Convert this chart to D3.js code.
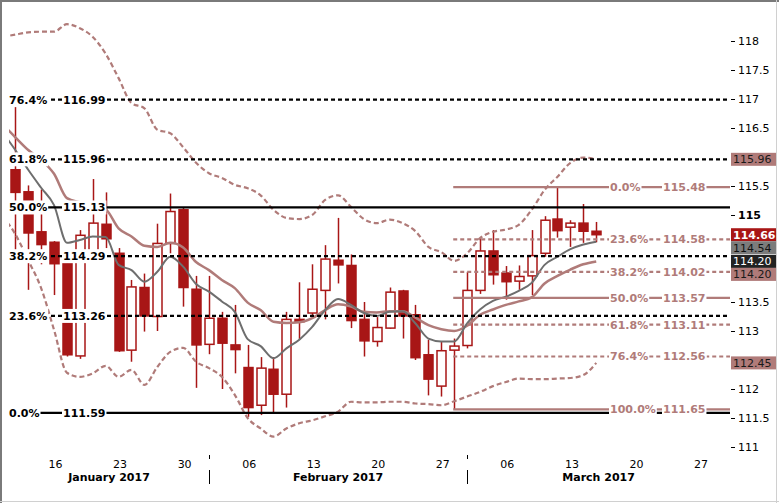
<!DOCTYPE html>
<html><head><meta charset="utf-8">
<script src="https://cdn.jsdelivr.net/npm/d3@7"></script>
<style>
html,body{margin:0;padding:0;background:#fff;}
svg{display:block;font-family:"DejaVu Sans",Verdana,sans-serif;}
</style></head>
<body><svg id="c" width="779" height="503"></svg>
<script>
// ---- data ----
const startDate = "2017-01-10"; // first trading day (indicator lead-in)
const open  = [115.78,115.40,114.71,114.53,114.17,112.57,114.36,114.84,114.34,112.67,113.75,113.25,114.51,115.09,113.72,112.77,113.22,112.76,112.37,111.72,112.34,111.91,113.20,113.31,113.70,114.22,114.13,113.20,112.82,113.05,113.69,113.28,112.59,112.05,112.67,112.75,113.70,114.38,114.00,113.86,113.95,114.34,114.93,114.79,114.86,114.72];
const high  = [116.86,115.51,115.44,114.55,114.25,114.74,115.62,115.39,114.43,113.88,113.99,114.85,115.37,115.12,113.95,113.95,113.33,113.45,112.76,112.55,112.55,113.33,113.84,114.15,114.48,114.95,114.32,113.50,113.24,113.75,113.71,113.45,112.85,112.82,112.87,114.02,114.60,114.74,114.12,114.13,114.74,114.98,115.48,114.91,115.19,114.88];
const low   = [114.30,113.71,114.15,113.62,112.56,112.52,114.30,114.43,112.64,112.47,112.99,113.00,114.34,113.42,112.02,112.60,112.00,112.27,111.52,111.55,111.58,111.68,112.85,113.26,113.20,113.82,113.05,112.56,112.73,113.04,112.87,112.50,111.89,111.87,111.65,112.70,113.64,113.80,113.54,113.71,113.62,114.28,114.61,114.45,114.52,114.53];
const close = [115.39,114.69,114.49,114.16,112.59,114.65,114.86,114.59,112.66,113.76,113.26,114.51,115.06,113.75,112.76,113.22,112.79,112.68,111.68,112.36,111.91,113.20,113.16,113.72,114.24,114.14,113.18,112.83,113.06,113.67,113.26,112.54,112.17,112.66,112.74,113.70,114.38,113.97,113.85,113.94,114.30,114.91,114.73,114.86,114.72,114.66];
// indicators: one value per trading day starting at startDate
const maFast = [116.43,116.12,115.78,115.47,115.17,114.52,114.57,114.63,114.62,114.14,114.05,113.85,114.02,114.28,114.11,113.81,113.68,113.51,113.33,112.86,112.74,112.53,112.70,112.85,113.07,113.36,113.55,113.45,113.31,113.26,113.33,113.34,113.13,112.87,112.82,112.82,113.13,113.37,113.52,113.59,113.69,113.83,114.14,114.28,114.41,114.49,114.54];
const maSlow = [116.57,116.34,116.12,115.95,115.71,115.29,115.22,115.17,115.10,114.77,114.63,114.47,114.45,114.52,114.44,114.19,114.05,113.88,113.74,113.49,113.36,113.16,113.14,113.15,113.22,113.36,113.46,113.42,113.33,113.32,113.34,113.34,113.23,113.10,113.03,113.00,113.09,113.28,113.37,113.45,113.51,113.58,113.82,113.95,114.06,114.15,114.20];
const bandUpper = [118.07,118.11,118.15,118.16,118.16,118.29,118.22,118.07,117.78,117.36,116.93,116.84,116.47,116.41,116.17,115.90,115.72,115.64,115.52,115.46,115.34,115.09,114.95,114.93,115.00,115.26,115.34,115.14,114.93,114.86,114.92,114.86,114.72,114.45,114.36,114.21,114.34,114.60,114.71,114.75,114.83,115.09,115.43,115.66,115.90,115.99,115.96];
const bandLower = [114.98,114.67,114.22,113.74,113.02,112.28,112.21,112.27,112.40,112.21,112.33,112.07,112.38,112.64,112.71,112.47,112.36,112.21,111.90,111.50,111.32,111.18,111.32,111.41,111.46,111.53,111.61,111.78,111.77,111.77,111.78,111.78,111.75,111.74,111.72,111.79,111.87,111.95,112.05,112.12,112.18,112.17,112.17,112.18,112.19,112.24,112.45];
// fibonacci retracement (long-term, black)
const fibAPct = ["0.0%","23.6%","38.2%","50.0%","61.8%","76.4%"];
const fibAVal = [111.59,113.26,114.29,115.13,115.96,116.99];
const fibASolid = [true,false,false,true,false,false];
// fibonacci retracement (short-term, brown) anchored at 2017-02-28
const fibBStart = "2017-02-28";
const fibBPct = ["0.0%","23.6%","38.2%","50.0%","61.8%","76.4%","100.0%"];
const fibBVal = [115.48,114.58,114.02,113.57,113.11,112.56,111.65];
const fibBSolid = [true,false,false,true,false,false,true];
// axis (ticks hidden behind the value boxes are not shown)
const yTicks = [111,111.5,112,113,113.5,115,115.5,116.5,117,117.5,118];
const dayTickDates = ["2017-01-16","2017-01-23","2017-01-30","2017-02-06","2017-02-13","2017-02-20","2017-02-27","2017-03-06","2017-03-13","2017-03-20","2017-03-27"];
const dayTickLabels = ["16","23","30","06","13","20","27","06","13","20","27"];
const monthStarts = ["2017-01-11","2017-02-01","2017-03-01"];
const monthLabels = ["January 2017","February 2017","March 2017"];
const boxValues = [115.96,114.66,114.54,114.20,114.20,112.45];
const boxLabels = ["115.96","114.66","114.54","114.20","114.20","112.45"];

// ---- trading-day calendar ----
const tradingDays = [];
{
  let d = new Date(startDate + "T00:00:00Z");
  while (tradingDays.length < 60) {
    const w = d.getUTCDay();
    if (w !== 0 && w !== 6) tradingDays.push(d.toISOString().slice(0,10));
    d = new Date(d.getTime() + 86400000);
  }
}
const idx = s => tradingDays.indexOf(s);

// ---- scales ----
const svg = d3.select("#c");
const plotL = 9, plotR = 730;
const x = d3.scaleLinear().domain([0, 56.2]).range([2.4, 727.9]);
const y = d3.scaleLinear().domain([111, 118]).range([447, 41]);

const RED = "#a81616", BROWN = "#b07b79", GRAY = "#6e6e6e";

svg.append("defs").append("clipPath").attr("id","clip")
  .append("rect").attr("x",plotL).attr("y",0).attr("width",plotR-plotL).attr("height",452);

// frame
svg.append("rect").attr("x",0).attr("y",0).attr("width",779).attr("height",503).attr("fill","#fff");
svg.append("line").attr("x1",0).attr("x2",779).attr("y1",1).attr("y2",1).attr("stroke","#7a7a7a").attr("stroke-width",2);
svg.append("line").attr("x1",1).attr("x2",1).attr("y1",0).attr("y2",503).attr("stroke","#7a7a7a").attr("stroke-width",2);
svg.append("line").attr("x1",0).attr("x2",779).attr("y1",501.5).attr("y2",501.5).attr("stroke","#d0d0d0").attr("stroke-width",1);
svg.append("line").attr("x1",776.5).attr("x2",776.5).attr("y1",0).attr("y2",503).attr("stroke","#d0d0d0").attr("stroke-width",1);

const plot = svg.append("g").attr("clip-path","url(#clip)");

// candles
const candles = open.map((o,i)=>({i:i+1,o,h:high[i],l:low[i],c:close[i]}));
const cg = plot.append("g");
const bw = 9;
cg.selectAll("line.w").data(candles).join("line")
  .attr("x1",d=>Math.round(x(d.i))+0.5).attr("x2",d=>Math.round(x(d.i))+0.5)
  .attr("y1",d=>y(d.h)).attr("y2",d=>y(d.l))
  .attr("stroke",RED).attr("stroke-width",1.5);
cg.selectAll("rect.b").data(candles).join("rect")
  .attr("x",d=>Math.round(x(d.i))+0.5-bw/2)
  .attr("y",d=>y(Math.max(d.o,d.c)))
  .attr("width",bw)
  .attr("height",d=>Math.max(1.5,Math.abs(y(d.o)-y(d.c))))
  .attr("fill",d=>d.c<d.o?RED:"#fff")
  .attr("stroke",RED).attr("stroke-width",1.5);

// indicators
const lineGen = d3.line().x((d,i)=>x(i)).y(d=>y(d)).curve(d3.curveMonotoneX);
plot.append("path").attr("d",lineGen(bandUpper)).attr("fill","none").attr("stroke",BROWN).attr("stroke-width",2.2).attr("stroke-dasharray","5,3");
plot.append("path").attr("d",lineGen(bandLower)).attr("fill","none").attr("stroke",BROWN).attr("stroke-width",2.2).attr("stroke-dasharray","5,3");
plot.append("path").attr("d",lineGen(maSlow)).attr("fill","none").attr("stroke",BROWN).attr("stroke-width",2.5);
plot.append("path").attr("d",lineGen(maFast)).attr("fill","none").attr("stroke",GRAY).attr("stroke-width",2);

// fib lines
const fg = svg.append("g");
fibAVal.forEach((v,k)=>{
  fg.append("line").attr("x1",plotL).attr("x2",plotR).attr("y1",y(v)).attr("y2",y(v))
    .attr("stroke","#000").attr("stroke-width",2.2)
    .attr("stroke-dasharray",fibASolid[k]?null:"4,3");
});
const bx0 = x(idx(fibBStart)) - 1;
fibBVal.forEach((v,k)=>{
  fg.append("line").attr("x1",bx0).attr("x2",plotR).attr("y1",y(v)).attr("y2",y(v))
    .attr("stroke",BROWN).attr("stroke-width",2.2)
    .attr("stroke-dasharray",fibBSolid[k]?null:"4,3");
});

function label(g, tx, ty, txt, color){
  const t = g.append("text").attr("x",tx).attr("y",ty).attr("dy","0.36em")
    .attr("font-size",11).attr("font-weight","bold").attr("fill",color).text(txt);
  const b = t.node().getBBox();
  g.insert("rect","text").attr("x",b.x-1).attr("y",ty-7).attr("width",b.width+2).attr("height",14).attr("fill","#fff");
}
const lg = svg.append("g");
fibAVal.forEach((v,k)=>{ label(lg.append("g"), 9, y(v), fibAPct[k], "#000"); label(lg.append("g"), 63, y(v), v.toFixed(2), "#000"); });
fibBVal.forEach((v,k)=>{ label(lg.append("g"), 610, y(v), fibBPct[k], BROWN); label(lg.append("g"), 663, y(v), v.toFixed(2), BROWN); });

// right axis
const ax = svg.append("g").attr("transform","translate(731,0)")
  .call(d3.axisRight(y).tickValues(yTicks).tickSize(4).tickPadding(3).tickFormat(d=>d%1===0?d3.format("d")(d):d3.format(".1f")(d)));
ax.select(".domain").remove();
ax.selectAll("text").attr("font-size",11).attr("fill","#000").attr("font-family","DejaVu Sans, sans-serif")
  .attr("font-weight",d=>d===115?"bold":"normal");
ax.selectAll("line").attr("stroke","#000");

// value boxes
const boxStyle = [
  {bg:BROWN, fg:"#1a1a1a", bold:false},
  {bg:"#a81616", fg:"#fff", bold:true},
  {bg:"#7c7c7c", fg:"#111", bold:false},
  {bg:"#222", fg:"#fff", bold:false},
  {bg:BROWN, fg:"#1a1a1a", bold:false},
  {bg:BROWN, fg:"#1a1a1a", bold:false}
];
const boxes = boxValues.map((v,k)=>({v, t:boxLabels[k], s:boxStyle[k], yy:y(v)}));
boxes.sort((a,b)=>a.yy-b.yy);
const bh = 13;
for (let k=1;k<boxes.length;k++){
  if (boxes[k].yy < boxes[k-1].yy + bh) boxes[k].yy = boxes[k-1].yy + bh;
}
const bg = svg.append("g");
boxes.forEach(b=>{
  bg.append("rect").attr("x",731).attr("y",b.yy-bh/2).attr("width",45).attr("height",bh).attr("fill",b.s.bg);
  bg.append("text").attr("x",733).attr("y",b.yy).attr("dy","0.36em").attr("font-size",11)
    .attr("font-weight",b.s.bold?"bold":"normal").attr("fill",b.s.fg).text(b.t);
});

// bottom axis
const bt = svg.append("g");
dayTickDates.forEach((d,k)=>{
  bt.append("text").attr("x",x(idx(d))+1.5).attr("y",468).attr("text-anchor","middle")
    .attr("font-size",11).attr("fill","#000").text(dayTickLabels[k]);
});
const sepIdx = monthStarts.slice(1).map(idx);
sepIdx.forEach(i=>{
  const sx = Math.round(x(i)) + 0.5;
  bt.append("line").attr("x1",sx).attr("x2",sx).attr("y1",455).attr("y2",459).attr("stroke","#000");
  bt.append("line").attr("x1",sx).attr("x2",sx).attr("y1",470).attr("y2",484).attr("stroke","#000");
});
const bounds = [plotL, ...sepIdx.map(i=>x(i)), plotR];
monthLabels.forEach((m,k)=>{
  bt.append("text").attr("x",(bounds[k]+bounds[k+1])/2).attr("y",481).attr("text-anchor","middle")
    .attr("font-size",11).attr("font-weight","bold").attr("fill","#000").text(m);
});
</script></body></html>
